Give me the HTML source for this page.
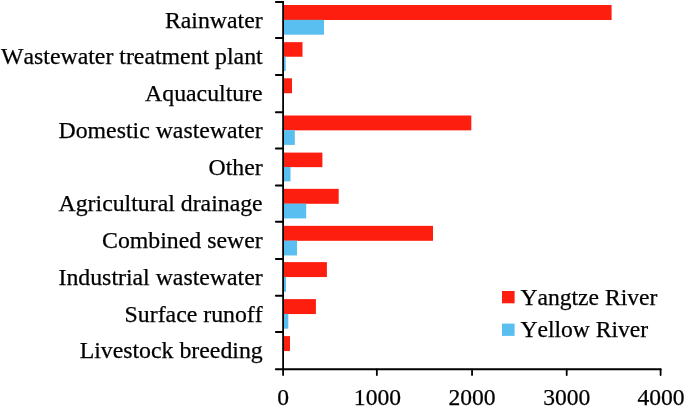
<!DOCTYPE html><html><head><meta charset="utf-8"><title>chart</title><style>html,body{margin:0;padding:0;background:#fff;overflow:hidden}svg{display:block}text{font-family:"Liberation Serif",serif;font-size:23.8px;fill:#000;font-kerning:none;stroke:#000;stroke-width:0.25px}</style></head><body>
<svg width="685" height="406" viewBox="0 0 685 406">
<rect width="685" height="406" fill="#fff"/>
<rect x="283.1" y="5.00" width="328.5" height="15.00" fill="#fe1e0f"/>
<rect x="283.1" y="19.85" width="40.9" height="14.85" fill="#59bef0"/>
<rect x="283.1" y="42.15" width="19.4" height="14.60" fill="#fe1e0f"/>
<rect x="283.1" y="56.60" width="2.6" height="14.45" fill="#59bef0"/>
<rect x="283.1" y="78.30" width="8.9" height="14.95" fill="#fe1e0f"/>
<rect x="283.1" y="115.50" width="188.2" height="14.85" fill="#fe1e0f"/>
<rect x="283.1" y="130.20" width="11.7" height="14.70" fill="#59bef0"/>
<rect x="283.1" y="152.60" width="39.3" height="14.55" fill="#fe1e0f"/>
<rect x="283.1" y="167.00" width="7.4" height="14.40" fill="#59bef0"/>
<rect x="283.1" y="188.85" width="55.6" height="14.95" fill="#fe1e0f"/>
<rect x="283.1" y="203.65" width="23.1" height="14.80" fill="#59bef0"/>
<rect x="283.1" y="225.85" width="149.9" height="14.95" fill="#fe1e0f"/>
<rect x="283.1" y="240.65" width="13.9" height="14.80" fill="#59bef0"/>
<rect x="283.1" y="262.10" width="43.8" height="14.95" fill="#fe1e0f"/>
<rect x="283.1" y="276.90" width="2.9" height="14.80" fill="#59bef0"/>
<rect x="283.1" y="299.10" width="32.8" height="14.95" fill="#fe1e0f"/>
<rect x="283.1" y="313.90" width="5.2" height="14.80" fill="#59bef0"/>
<rect x="283.1" y="336.10" width="6.9" height="14.95" fill="#fe1e0f"/>
<g stroke="#000" stroke-width="1.8" fill="none" stroke-linecap="round" stroke-linejoin="round">
<path d="M283.1 1.9V375.1"/>
<path stroke-width="2.1" d="M275.9 369.3H660.6"/>
<path stroke-width="2" d="M275.9 1.90H283.1"/>
<path stroke-width="2" d="M275.9 38.00H283.1"/>
<path stroke-width="2" d="M275.9 75.00H283.1"/>
<path stroke-width="2" d="M275.9 112.15H283.1"/>
<path stroke-width="2" d="M275.9 148.56H283.1"/>
<path stroke-width="2" d="M275.9 185.50H283.1"/>
<path stroke-width="2" d="M275.9 221.80H283.1"/>
<path stroke-width="2" d="M275.9 258.90H283.1"/>
<path stroke-width="2" d="M275.9 295.80H283.1"/>
<path stroke-width="2" d="M275.9 332.00H283.1"/>
<path d="M376.85 369.3V375.1"/>
<path d="M472.05 369.3V375.1"/>
<path d="M566.70 369.3V375.1"/>
<path d="M660.60 369.3V375.1"/>
</g>
<g>
<text x="262.7" y="28.00" text-anchor="end">Rainwater</text>
<text x="262.7" y="64.00" text-anchor="end">Wastewater treatment plant</text>
<text x="262.7" y="101.00" text-anchor="end">Aquaculture</text>
<text x="262.7" y="138.00" text-anchor="end">Domestic wastewater</text>
<text x="262.7" y="175.00" text-anchor="end">Other</text>
<text x="262.7" y="211.00" text-anchor="end">Agricultural drainage</text>
<text x="262.7" y="248.00" text-anchor="end">Combined sewer</text>
<text x="262.7" y="285.00" text-anchor="end">Industrial wastewater</text>
<text x="262.7" y="322.00" text-anchor="end">Surface runoff</text>
<text x="262.7" y="358.00" text-anchor="end">Livestock breeding</text>
<text x="283.10" y="405.00" text-anchor="middle" style="font-size:23.6px">0</text>
<text x="377.45" y="405.00" text-anchor="middle" style="font-size:23.6px">1000</text>
<text x="472.00" y="405.00" text-anchor="middle" style="font-size:23.6px">2000</text>
<text x="566.80" y="405.00" text-anchor="middle" style="font-size:23.6px">3000</text>
<text x="661.00" y="405.00" text-anchor="middle" style="font-size:23.6px">4000</text>
<rect x="502" y="291" width="12.6" height="12.3" fill="#fe1e0f"/>
<rect x="502" y="323.6" width="12.6" height="12.3" fill="#59bef0"/>
<text x="520.4" y="305.00" style="font-size:23.6px">Yangtze River</text>
<text x="520.4" y="337.00" style="font-size:23.6px">Yellow River</text>
</g>
</svg></body></html>
